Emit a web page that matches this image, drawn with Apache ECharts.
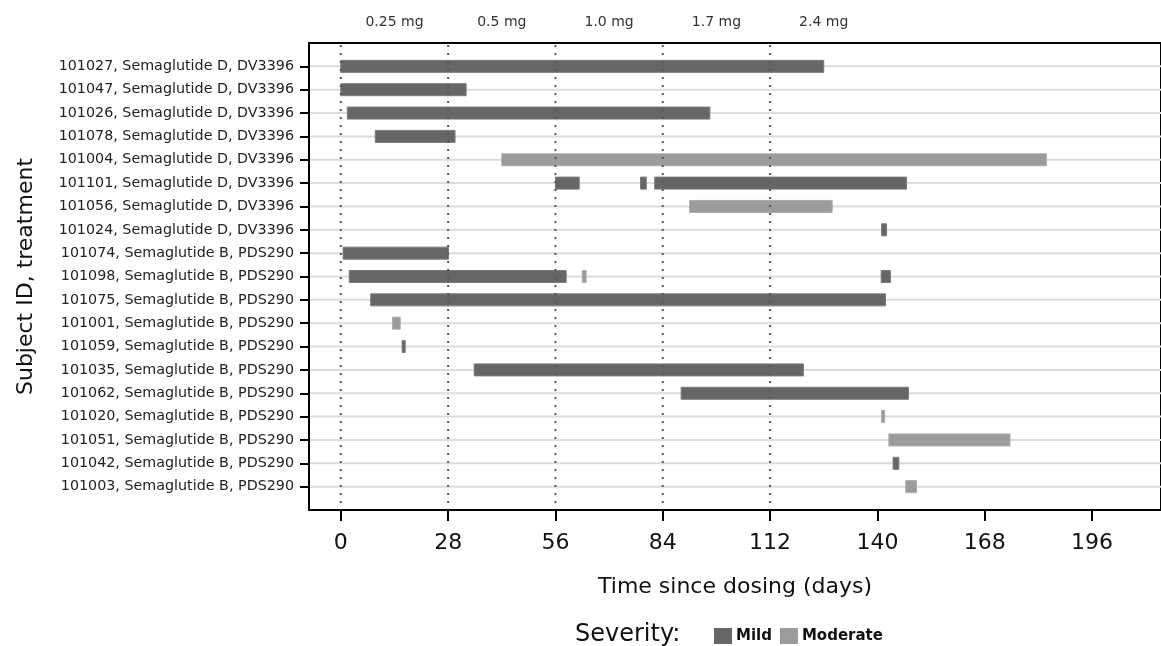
<!DOCTYPE html>
<html>
<head>
<meta charset="utf-8">
<script src="https://cdn.jsdelivr.net/npm/echarts@6/dist/echarts.min.js"></script>
<style>html,body{margin:0;padding:0;background:#fff}#c{width:1161px;height:646px}</style>
</head>
<body>
<div id="c"></div>
<script>
var subjects = [
  '101027, Semaglutide D, DV3396',
  '101047, Semaglutide D, DV3396',
  '101026, Semaglutide D, DV3396',
  '101078, Semaglutide D, DV3396',
  '101004, Semaglutide D, DV3396',
  '101101, Semaglutide D, DV3396',
  '101056, Semaglutide D, DV3396',
  '101024, Semaglutide D, DV3396',
  '101074, Semaglutide B, PDS290',
  '101098, Semaglutide B, PDS290',
  '101075, Semaglutide B, PDS290',
  '101001, Semaglutide B, PDS290',
  '101059, Semaglutide B, PDS290',
  '101035, Semaglutide B, PDS290',
  '101062, Semaglutide B, PDS290',
  '101020, Semaglutide B, PDS290',
  '101051, Semaglutide B, PDS290',
  '101042, Semaglutide B, PDS290',
  '101003, Semaglutide B, PDS290'
];
// [row index, start day, end day]
var mildEvents = [
  [0, 0, 126], [1, 0, 32.7], [2, 1.7, 96.3], [3, 9, 29.8],
  [5, 56, 62.2], [5, 78.2, 79.7], [5, 81.9, 147.6],
  [7, 141.1, 142.4], [8, 0.6, 28.1], [9, 2.2, 58.8], [9, 141, 143.4],
  [10, 7.8, 142.1], [12, 16.0, 16.8], [13, 34.8, 120.7],
  [14, 88.8, 148.1], [17, 144.1, 145.6]
];
var moderateEvents = [
  [4, 42, 184.1], [6, 91, 128.2], [9, 63, 64], [11, 13.5, 15.5],
  [15, 141.1, 141.9], [16, 143, 174.6], [18, 147.4, 150.2]
];
var xTicks = [0, 28, 56, 84, 112, 140, 168, 196];
var doseStarts = [0, 28, 56, 84, 112];
var doseMid = [14, 42, 70, 98, 126];
var doseLabels = ['0.25 mg', '0.5 mg', '1.0 mg', '1.7 mg', '2.4 mg'];

var FONT = 'DejaVu Sans';
var MILD = '#666666', MOD = '#9b9b9b';
var rowIdx = subjects.map(function (s, i) { return i; });

function barRenderer(fill, stroke) {
  return function (params, api) {
    var row = api.value(0), s = api.value(1), e = api.value(2);
    var p0 = api.coord([s, row]), p1 = api.coord([e, row]);
    var h = 12;
    return {
      type: 'rect',
      shape: { x: p0[0], y: p0[1] - h / 2, width: Math.max(p1[0] - p0[0], 1.5), height: h },
      style: { fill: fill, stroke: stroke, lineWidth: 1 }
    };
  };
}

var chart = echarts.init(document.getElementById('c'));
chart.setOption({
  animation: false,
  backgroundColor: '#fff',
  title: {
    text: 'Severity:', left: 575, top: 623, padding: 0,
    textStyle: { fontFamily: FONT, fontSize: 24, fontWeight: 'normal', color: '#111' }
  },
  legend: {
    data: ['Mild', 'Moderate'], left: 714, top: 628, padding: 0,
    icon: 'rect', itemWidth: 18, itemHeight: 16, itemGap: 8,
    textStyle: { fontFamily: FONT, fontSize: 15, fontWeight: 'bold', color: '#111', padding: [0, 0, 0, -1] }
  },
  grid: {
    left: 309, top: 43, right: -6, bottom: 136,
    show: true, borderColor: '#000', borderWidth: 2, backgroundColor: '#fff'
  },
  xAxis: [{
    type: 'value', min: -8.3, max: 214, position: 'bottom',
    axisLine: { show: true, onZero: false, lineStyle: { color: '#000', width: 2 } },
    axisTick: { show: true, customValues: xTicks, length: 11, lineStyle: { color: '#000', width: 2 } },
    axisLabel: { customValues: xTicks, fontFamily: FONT, fontSize: 22, color: '#111', margin: 22 },
    splitLine: { show: false },
    name: 'Time since dosing (days)', nameLocation: 'middle', nameGap: 66,
    nameTextStyle: { fontFamily: FONT, fontSize: 22, color: '#111' }
  }, {
    type: 'value', min: -8.3, max: 214, position: 'top',
    axisLine: { show: false, onZero: false }, axisTick: { show: false }, splitLine: { show: false },
    axisLabel: {
      customValues: doseMid, fontFamily: FONT, fontSize: 14, color: '#333', margin: 14,
      formatter: function (v) { var i = doseMid.indexOf(v); return i >= 0 ? doseLabels[i] : ''; }
    }
  }],
  yAxis: {
    type: 'value', inverse: true, min: -1, max: 19, interval: 1, position: 'left',
    axisLine: { show: true, onZero: false, lineStyle: { color: '#000', width: 2 } },
    axisTick: { show: true, customValues: rowIdx, length: 9, lineStyle: { color: '#000', width: 2 } },
    axisLabel: {
      customValues: rowIdx, fontFamily: FONT, fontSize: 14.3, color: '#222', margin: 15,
      formatter: function (v) { return subjects[v] || ''; }
    },
    splitLine: { show: false },
    name: 'Subject ID, treatment', nameLocation: 'middle', nameGap: 272,
    nameTextStyle: { fontFamily: FONT, fontSize: 22, color: '#111' }
  },
  series: [{
    name: 'rows', type: 'custom', z: 1, silent: true,
    data: rowIdx.map(function (i) { return [0, i]; }),
    encode: { x: 0, y: 1 },
    renderItem: function (params, api) {
      var cs = params.coordSys;
      var y = api.coord([0, api.value(1)])[1];
      return { type: 'line', shape: { x1: cs.x + 1, y1: y, x2: cs.x + cs.width, y2: y },
        style: { stroke: '#dcdcdc', lineWidth: 2 } };
    }
  }, {
    name: 'Mild', type: 'custom', z: 3, itemStyle: { color: MILD },
    data: mildEvents, encode: { x: [1, 2], y: 0 },
    renderItem: barRenderer(MILD, '#7a7a7a')
  }, {
    name: 'Moderate', type: 'custom', z: 3, itemStyle: { color: MOD },
    data: moderateEvents, encode: { x: [1, 2], y: 0 },
    renderItem: barRenderer(MOD, '#ababab')
  }, {
    name: 'doses', type: 'custom', z: 5, silent: true,
    data: doseStarts.map(function (d) { return [d, 0]; }),
    encode: { x: 0, y: 1 },
    renderItem: function (params, api) {
      var cs = params.coordSys;
      var x = api.coord([api.value(0), 0])[0];
      return { type: 'line', shape: { x1: x, y1: cs.y + 2, x2: x, y2: cs.y + cs.height - 1 },
        style: { stroke: '#555', lineWidth: 2, lineDash: [2, 6] } };
    }
  }]
});
</script>
</body>
</html>
